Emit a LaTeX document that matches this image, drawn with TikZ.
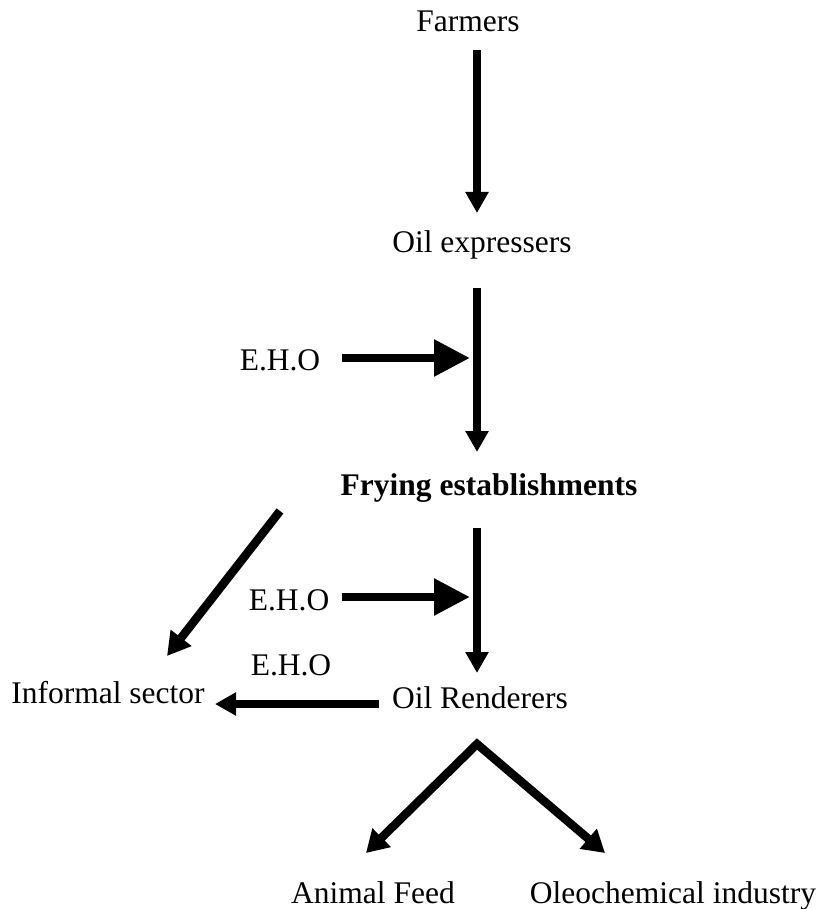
\documentclass[tikz,border=0pt]{standalone}
\usepackage{fontspec}
\setmainfont{Liberation Serif}
\usetikzlibrary{arrows.meta}
\begin{document}
\begin{tikzpicture}[x=1pt,y=-1pt,
  lbl/.style={inner sep=0pt, anchor=base, font=\fontsize{31.5}{36}\selectfont},
  shaft/.style={line width=8.5pt},
  smallhead/.style={shaft, -{Triangle[length=21pt,width=22pt]}},
  bighead/.style={shaft, -{Triangle[length=36pt,width=35pt]}},
  diaghead/.style={shaft, -{Triangle[length=23pt,width=25pt]}},
  vhead/.style={shaft, line join=miter, {Triangle[length=22pt,width=25pt]}-{Triangle[length=22pt,width=25pt]}}]
\useasboundingbox (0,0) rectangle (820,909);

% labels
\node[lbl] (farmers) at (468,32) {Farmers};
\node[lbl] (oilexp) at (482,252) {Oil expressers};
\node[lbl] (eho1) at (280,370) {E.H.O};
\node[lbl, font=\fontsize{31.5}{36}\selectfont\bfseries] (frying) at (489,495) {Frying establishments};
\node[lbl] (eho2) at (289,610) {E.H.O};
\node[lbl] (eho3) at (291,675) {E.H.O};
\node[lbl] (informal) at (108,703) {Informal sector};
\node[lbl] (render) at (480,708) {Oil Renderers};
\node[lbl] (feed) at (373,903) {Animal Feed};
\node[lbl] (oleo) at (673,903) {Oleochemical industry};

% connector end points
\coordinate (f1) at (477,50);
\coordinate (o1) at (477,213);
\coordinate (o2) at (477,288);
\coordinate (fr1) at (477,452);
\coordinate (e1s) at (342,358);
\coordinate (e1t) at (470,358);
\coordinate (fr2) at (477,528);
\coordinate (r1) at (477,673);
\coordinate (e2s) at (342,597);
\coordinate (e2t) at (470,597);
\coordinate (d1) at (280,511);
\coordinate (d2) at (167,656);
\coordinate (r2) at (379,704);
\coordinate (i1) at (215,704);
\coordinate (apex) at (477,744);
\coordinate (fd) at (366,853);
\coordinate (ol) at (605,853);

% connectors
\draw[smallhead] (f1) -- (o1);
\draw[smallhead] (o2) -- (fr1);
\draw[bighead] (e1s) -- (e1t);
\draw[smallhead] (fr2) -- (r1);
\draw[bighead] (e2s) -- (e2t);
\draw[diaghead] (d1) -- (d2);
\draw[smallhead] (r2) -- (i1);
\draw[vhead] (fd) -- (apex) -- (ol);
\end{tikzpicture}
\end{document}
